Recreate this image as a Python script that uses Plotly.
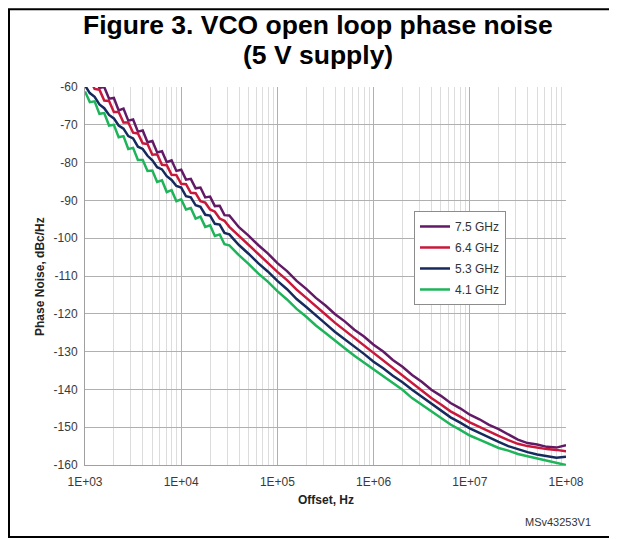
import plotly.graph_objects as go

offset_exp = [3.00, 3.05, 3.10, 3.15, 3.20, 3.25, 3.30, 3.35, 3.40, 3.45,
              3.50, 3.55, 3.60, 3.65, 3.70, 3.75, 3.80, 3.85, 3.90, 3.95,
              4.00, 4.05, 4.10, 4.15, 4.20, 4.25, 4.30, 4.35, 4.40, 4.45,
              4.50, 4.6, 4.7, 4.8, 4.9, 5.0, 5.1, 5.2, 5.3, 5.4,
              5.5, 5.6, 5.7, 5.8, 5.9, 6.0, 6.1, 6.2, 6.3, 6.4,
              6.5, 6.6, 6.7, 6.8, 6.9, 7.0, 7.1, 7.2, 7.3, 7.4,
              7.5, 7.6, 7.7, 7.8, 7.9, 8.0]
offsets_hz = [10 ** e for e in offset_exp]

pn_7_5 = [-55.0, -57.4, -57.0, -60.2, -60.0, -63.1, -62.9, -66.2, -65.7, -68.9,
          -68.6, -71.8, -71.5, -74.6, -74.3, -77.3, -77.0, -79.9, -79.4, -82.2,
          -81.9, -84.5, -84.3, -86.8, -86.6, -89.2, -89.0, -91.5, -91.4, -93.9,
          -94.0, -97.1, -99.3, -101.8, -104.0, -106.6, -108.7, -111.3, -113.4, -115.8,
          -117.8, -120.1, -122.0, -124.2, -126.0, -128.2, -130.0, -132.2, -134.0, -136.2,
          -138.0, -140.1, -141.7, -143.6, -145.0, -146.7, -147.9, -149.4, -150.5, -151.9,
          -153.3, -154.2, -154.6, -155.2, -155.4, -154.8]

pn_6_4 = [-57.2, -58.0, -60.5, -60.7, -63.6, -63.7, -66.6, -66.6, -69.4, -69.4,
          -72.1, -72.3, -74.9, -75.1, -77.9, -77.8, -80.6, -80.7, -83.2, -83.3,
          -85.6, -85.7, -88.0, -88.1, -90.2, -90.6, -92.4, -93.0, -94.8, -95.4,
          -97.0, -99.4, -101.7, -104.1, -106.4, -108.9, -111.1, -113.6, -115.8, -118.1,
          -120.2, -122.4, -124.4, -126.5, -128.4, -130.5, -132.4, -134.5, -136.3, -138.4,
          -140.3, -142.3, -144.0, -145.8, -147.2, -148.7, -149.9, -151.2, -152.3, -153.4,
          -154.4, -155.0, -155.5, -155.8, -156.0, -156.4]

pn_5_3 = [-59.6, -61.6, -62.6, -64.6, -65.6, -67.4, -68.3, -70.2, -71.0, -73.0,
          -73.6, -75.8, -76.4, -78.2, -79.4, -81.2, -81.8, -83.6, -84.6, -86.2,
          -86.6, -88.9, -89.2, -91.3, -91.7, -93.8, -94.0, -96.2, -96.4, -98.6,
          -99.0, -101.8, -104.1, -106.6, -108.8, -111.3, -113.5, -116.1, -118.2, -120.5,
          -122.6, -124.8, -126.7, -128.8, -130.6, -132.7, -134.4, -136.4, -138.1, -140.1,
          -141.9, -143.9, -145.5, -147.4, -148.8, -150.3, -151.5, -152.8, -153.9, -155.0,
          -155.9, -156.6, -157.2, -157.7, -158.1, -157.8]

pn_4_1 = [-61.2, -64.0, -63.8, -67.1, -66.9, -70.2, -70.0, -73.3, -73.0, -76.4,
          -76.1, -79.3, -79.3, -82.2, -82.1, -85.1, -84.7, -87.8, -87.3, -90.2,
          -89.7, -92.4, -92.0, -94.8, -94.3, -97.0, -96.6, -99.4, -99.0, -101.6,
          -101.9, -104.5, -106.8, -109.3, -111.5, -114.0, -116.2, -118.7, -120.8, -123.1,
          -125.1, -127.2, -129.1, -131.1, -132.9, -134.8, -136.5, -138.4, -140.1, -142.3,
          -144.1, -145.9, -147.6, -149.3, -150.7, -152.2, -153.3, -154.5, -155.5, -156.2,
          -157.1, -157.7, -158.3, -158.9, -159.4, -160.0]

series_names = ["7.5 GHz", "6.4 GHz", "5.3 GHz", "4.1 GHz"]
series_values = [pn_7_5, pn_6_4, pn_5_3, pn_4_1]
series_colors = ["#621a66", "#c8193c", "#162a5e", "#1db45a"]

x_tick_vals = [1e3, 1e4, 1e5, 1e6, 1e7, 1e8]
x_tick_text = ["1E+03", "1E+04", "1E+05", "1E+06", "1E+07", "1E+08"]
y_tick_vals = [-60, -70, -80, -90, -100, -110, -120, -130, -140, -150, -160]
y_tick_text = ["-60", "-70", "-80", "-90", "-100", "-110", "-120", "-130",
               "-140", "-150", "-160"]

FONT = "Arial, 'Liberation Sans', sans-serif"

fig = go.Figure()
for name, vals, col in zip(series_names, series_values, series_colors):
    fig.add_trace(go.Scatter(
        x=offsets_hz, y=vals, mode="lines", name=name, legendgroup=name,
        line=dict(color=col, width=2.5), cliponaxis=True,
    ))

minor_vals = [m * 10 ** d for d in range(3, 8) for m in range(2, 10)]

# page has an 8px body margin, so the figure is 8px smaller and margins shifted
fig.update_layout(
    width=609, height=531,
    margin=dict(l=77, r=51, t=79, b=74),
    paper_bgcolor="white", plot_bgcolor="white",
    font=dict(family=FONT, size=12, color="#3a3a3a"),
    showlegend=True,
    legend=dict(
        x=0.684, y=0.672, xanchor="left", yanchor="top",
        bgcolor="white", bordercolor="#8c8c8c", borderwidth=1,
        font=dict(family=FONT, size=12, color="#333333"),
        tracegroupgap=2, itemwidth=30,
    ),
)

fig.update_xaxes(
    type="log", range=[3, 8],
    tickmode="array", tickvals=x_tick_vals, ticktext=x_tick_text,
    showgrid=True, gridcolor="#b0b0b0", gridwidth=1,
    minor=dict(tickmode="array", tickvals=minor_vals, showgrid=True,
               gridcolor="#dcdcdc", gridwidth=1),
    showline=True, linecolor="#a0a0a0", linewidth=1,
    ticks="", tickfont=dict(size=12, color="#3a3a3a"),
    ticklabelstandoff=6,
    zeroline=False,
)
fig.update_yaxes(
    range=[-160, -60], tickmode="array", tickvals=y_tick_vals, ticktext=y_tick_text,
    showgrid=True, gridcolor="#b0b0b0", gridwidth=1,
    showline=True, linecolor="#a0a0a0", linewidth=1,
    ticks="", tickfont=dict(size=12, color="#3a3a3a"),
    ticklabelstandoff=4,
    zeroline=False,
)

annotations = [
    dict(text="<b>Figure 3. VCO open loop phase noise</b>", x=0.484, y=1.164,
         font=dict(family=FONT, size=26.5, color="black")),
    dict(text="<b>(5 V supply)</b>", x=0.484, y=1.085,
         font=dict(family=FONT, size=26.5, color="black")),
    dict(text="<b>Offset, Hz</b>", x=0.5, y=-0.0926,
         font=dict(family=FONT, size=12, color="#222222")),
    dict(text="<b>Phase Noise, dBc/Hz</b>", x=-0.0936, y=0.5, textangle=-90,
         font=dict(family=FONT, size=12, color="#222222")),
    dict(text="MSv43253V1", x=1.056, y=-0.151, xanchor="right",
         font=dict(family=FONT, size=11, color="#333333")),
]
for a in annotations:
    a.setdefault("xanchor", "center")
    fig.add_annotation(xref="paper", yref="paper", showarrow=False,
                       yanchor="middle", **a)

fig.add_shape(type="rect", xref="paper", yref="paper",
              x0=-0.158, x1=1.2, y0=-0.1905, y1=1.206,
              line=dict(color="black", width=2), layer="above")

fig.write_html("out.html")
